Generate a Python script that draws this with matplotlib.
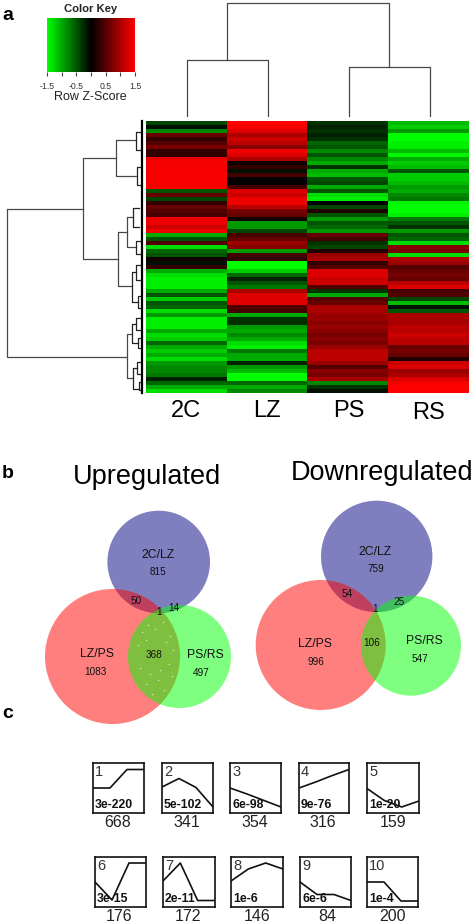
import matplotlib
matplotlib.use('Agg')
import numpy as np
import matplotlib.pyplot as plt
from matplotlib.colors import LinearSegmentedColormap, Normalize
from matplotlib.cm import ScalarMappable
from matplotlib.patches import Circle

plt.rc('font', family='Liberation Sans')

W, H = 472, 922

# heatmap z-scores, one list per sample
samples = ['2C', 'LZ', 'PS', 'RS']
z_2c = [-.4, -.1, -.8, .6, .3, .5, .7, .3, .3, 1.4, 1.45, 1.45, 1.45, 1.45, 1.45, 1.45, 1.45,
        -.5, .6, -.4, .3, .6, .5, .4, 1.4, 1.4, 1.2, 1.4, -1.0, -.5, .5, -1.3, -.6, -.5, .1, -.1,
        .3, -1.0, -1.3, -1.4, -1.4, -1.4, -1.0, -.5, -1.2, -.5, -.6, -1.3, -.9, -1.4, -1.4, -1.4,
        -1.0, -1.3, -1.2, -.6, -1.0, -1.2, -1.0, -1.3, -.9, -.8, -.8, -.7, -.2, -.6, -1.0, -1.3]
z_lz = [1.5, 1.45, 1.3, 1.0, 1.2, 1.1, .8, 1.4, 1.3, 1.0, .1, .3, -.1, .4, .05, 0, .4,
        1.3, 1.2, 1.4, 1.4, 1.1, .7, .6, .1, -.9, -.9, -.4, .4, .6, .9, .8, -.9, .4, .3, -1.5,
        -1.5, -1.2, -.6, -.2, -.5, -.7, 1.0, 1.3, 1.3, 1.3, .5, .4, -1.0, -.3, -.3, -.9,
        -1.0, -.8, -1.0, -1.3, -1.4, -.7, -1.0, -1.0, -.2, -.9, -1.1, -1.5, -1.5, -.6, -1.0, -.8]
z_ps = [-.3, -.2, -.3, -.2, -.3, -.6, -.5, -.8, -.5, -.8, -1.0, -.3, -1.0, -1.1, -.5, -.4, -1.0,
        -.5, -1.3, -1.4, 0, -.4, .2, -.5, -.9, -.5, -.6, -.9, .6, .4, -.3, -.4, .2, .9, 1.0, .3,
        .5, 1.3, 1.3, 1.2, 1.2, .5, -.3, -1.0, .5, .6, 1.0, 1.0, .9, .9, .8, .9,
        .8, .7, .8, .7, .9, 1.1, 1.1, 1.1, .9, .5, .8, .7, 1.0, -.8, -.3, -.1]
z_rs = [-1.1, -1.2, -.9, -1.5, -1.5, -1.4, -1.4, -1.1, -1.45, -1.0, -1.2, -1.1, -.5, -1.2, -1.2, -1.1, -.9,
        -1.0, -.8, -.7, -1.45, -1.5, -1.5, -1.4, -.7, -.5, -.3, -.9, -.5, -.6, -1.3, .8, .7, -1.3, 1.0, .9,
        .5, .6, .7, .6, 1.1, 1.3, .4, .5, -.4, -1.1, -.1, -.5, 1.0, 1.0, 1.0, 1.1,
        1.1, 1.2, 1.1, 1.1, .6, .7, .6, .2, 1.2, 1.3, .9, 1.0, 1.3, 1.45, 1.5, 1.5]

# dendrograms: one bracket per merge (pixel positions)
top_merges = [(3, 227, 389, 60, 67), (60, 187, 268, 116, 116), (67, 349, 430, 116, 116)]
side_merges = [(7, 209, 357, 83, 127), (83, 158, 259, 116, 118), (116, 140, 176, 136, 137),
               (136, 132, 150, 141, 141), (137, 167, 185, 141, 141),
               (118, 232, 286, 127, 132), (127, 217, 247, 133, 136),
               (133, 208, 227, 139, 139), (136, 241, 254, 141, 141),
               (132, 272, 302, 136, 138), (136, 265, 280, 141, 141), (138, 296, 308, 141, 141),
               (127, 334, 378, 132, 133), (132, 324, 343, 136, 138), (136, 318, 330, 141, 141),
               (138, 338, 348, 141, 141), (133, 368, 389, 137, 139), (137, 362, 374, 141, 141),
               (139, 382, 390, 141, 141)]

# venn diagrams
venn_centres_up = [(158.7, 562), (112.5, 656.5), (179.5, 656.5)]
venn_radii_up = [51.3, 67.5, 51.5]
venn_centres_down = [(376.7, 556.4), (320.7, 645), (411, 645.7)]
venn_radii_down = [55.7, 65, 50]
venn_colors = [(0, 0, .5), (1, 0, 0), (0, 1, 0)]

venn_names_up = [('2C/LZ', 158, 555), ('LZ/PS', 97, 654), ('PS/RS', 205, 655)]
venn_counts_up = [('815', 158.5, 572), ('50', 136, 601), ('1', 159, 612), ('14', 174, 608),
                  ('1083', 95, 672), ('368', 154, 655), ('497', 201, 673)]
venn_names_down = [('2C/LZ', 375, 552), ('LZ/PS', 315, 644), ('PS/RS', 424, 641)]
venn_counts_down = [('759', 376, 569), ('54', 347, 594), ('1', 375, 609), ('25', 399, 602),
                    ('996', 316, 662), ('106', 372, 643), ('547', 420, 659)]

# pale specks inside the 368 overlap
speck_x = [142, 148, 155, 163, 170, 138, 146, 166, 173, 140, 150, 160, 169, 146, 158, 164, 152, 172]
speck_y = [632, 625, 629, 622, 636, 645, 640, 642, 650, 668, 674, 670, 664, 684, 680, 690, 694, 676]

# profile panels
profiles = [[.5, .5, .87, .87], [.52, .69, .51, .12], [.5, .38, .25, .12], [.5, .62, .75, .87],
            [.49, .25, .12, .24], [.5, .14, .88, .88], [.52, .88, .13, .13], [.52, .76, .88, .76],
            [.5, .25, .25, .13], [.5, .5, .12, .12]]
pvalues = ['3e-220', '5e-102', '6e-98', '9e-76', '1e-20', '3e-15', '2e-11', '1e-6', '6e-6', '1e-4']
counts = ['668', '341', '354', '316', '159', '176', '172', '146', '84', '200']
panel_boxes = [(93, 144, 763, 813), (162, 213, 763, 813), (230, 281, 763, 813),
               (299, 349, 763, 813), (367, 419, 763, 813),
               (95, 146, 857, 907), (163, 215, 857, 907), (231, 283, 857, 907),
               (300, 351, 857, 907), (367, 418, 857, 907)]
count_x = [118, 187, 255, 323, 393, 119, 188, 257, 327, 393]


def px_axes(x0, x1, y0, y1):
    return fig.add_axes([x0/W, 1-y1/H, (x1-x0)/W, (y1-y0)/H])


fig = plt.figure(figsize=(W/100, H/100), dpi=100, facecolor='white')
bg = fig.add_axes([0, 0, 1, 1])
bg.set_xlim(0, W)
bg.set_ylim(H, 0)
bg.axis('off')

cmap = LinearSegmentedColormap.from_list('gkr', ['#00ff00', '#000000', '#ff0000'])
norm = Normalize(-1.5, 1.5)

# a: heatmap
ax = px_axes(146, 469, 121, 393)
ax.imshow(np.array([z_2c, z_lz, z_ps, z_rs]).T, cmap=cmap, norm=norm, aspect='auto',
          interpolation='nearest')
ax.axis('off')
for s, x, y in zip(samples, [186, 267, 349, 428], [411, 411, 411, 413]):
    bg.text(x, y, s, fontsize=17, ha='center', va='center')

# colour key
cax = px_axes(47, 135, 18, 72)
cb = fig.colorbar(ScalarMappable(norm=norm, cmap=cmap), cax=cax, orientation='horizontal')
cb.outline.set_visible(False)
cb.set_ticks([-1.5, -1, -.5, 0, .5, 1, 1.5])
cb.set_ticklabels(['-1.5', '', '-0.5', '', '0.5', '', '1.5'])
cax.tick_params(length=3, width=0.8, color='#444444', labelsize=6.3, pad=4.5, labelcolor='#333333')
bg.text(91, 9, 'Color Key', fontsize=8.1, fontweight='bold', ha='center', va='center', color='#222222')
bg.text(90, 97.5, 'Row Z-Score', fontsize=9, ha='center', va='center', color='#222222')

dark = '#484848'
for y, x0, x1, y0, y1 in top_merges:
    bg.plot([x0, x0, x1, x1], [y0, y, y, y1], color=dark, lw=0.9)
for x, y0, y1, x0, x1 in side_merges:
    bg.plot([x0, x, x, x1], [y0, y0, y1, y1], color=dark if x < 130 else '#222222', lw=0.9)
bg.plot([142, 142], [121, 393], color='black', lw=1.6)

# b: venn diagrams
for centres, radii in [(venn_centres_up, venn_radii_up), (venn_centres_down, venn_radii_down)]:
    for c, r, col in zip(centres, radii, venn_colors):
        bg.add_patch(Circle(c, r, facecolor=col, edgecolor='none', alpha=0.5))
bg.scatter(speck_x, speck_y, s=1.2, color='#c8e8b0', linewidths=0)
for names, nums in [(venn_names_up, venn_counts_up), (venn_names_down, venn_counts_down)]:
    for s, x, y in names:
        bg.text(x, y, s, fontsize=8.8, ha='center', va='center', color='#111111')
    for s, x, y in nums:
        bg.text(x, y, s, fontsize=7.2, ha='center', va='center', color='#111111')
bg.text(147, 477, 'Upregulated', fontsize=19.5, ha='center', va='center')
bg.text(382, 473, 'Downregulated', fontsize=19.5, ha='center', va='center', clip_on=True)

# c: profile panels
for i, (box, prof) in enumerate(zip(panel_boxes, profiles)):
    a = px_axes(*box)
    a.plot(range(4), prof, color='#111111', lw=1.2)
    a.set_xlim(0, 3)
    a.set_ylim(0, 1)
    a.set_xticks([])
    a.set_yticks([])
    for sp in a.spines.values():
        sp.set_linewidth(1.2)
        sp.set_color('#111111')
    a.text(0.04, 0.97, str(i+1), transform=a.transAxes, fontsize=10.5, va='top', color='#333333')
    a.text(0.04, 0.04, pvalues[i], transform=a.transAxes, fontsize=8.8, fontweight='bold',
           va='bottom', color='#111111')
    bg.text(count_x[i], box[3]+9, counts[i], fontsize=11.5, ha='center', va='center', color='#222222')

for s, y in [('a', 15), ('b', 473), ('c', 713)]:
    bg.text(8, y, s, fontsize=14, fontweight='bold', ha='center', va='center')

fig.savefig('out.png', dpi=100)
